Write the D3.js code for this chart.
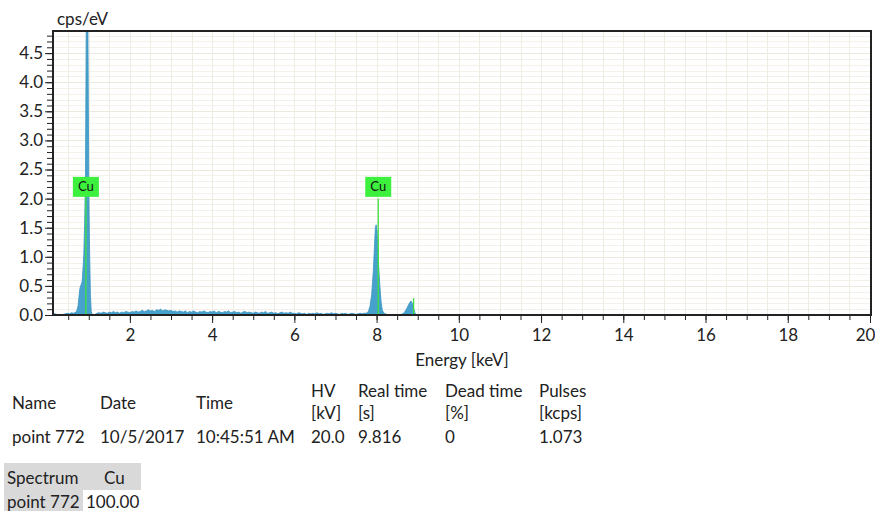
<!DOCTYPE html>
<meta charset="utf-8" />
<head>
  <script src="https://d3js.org/d3.v7.min.js"></script>
  <title>EDS spectrum</title>
  <style>
    body { margin: 0; background: #fff; }
    svg text { font-family: Lato, "Open Sans", sans-serif; fill: #222; }
    .grid line { shape-rendering: crispEdges; }
    .axis path, .axis line { stroke: #222; }
  </style>
</head>
<body>
  <svg id="chart" width="875" height="511"></svg>
</body>

<script>
  // spectrum: [keV, cps/eV]
  const lowEnd = [
    [0.13, 0.02], [0.18, 0.02], [0.23, 0.01], [0.28, 0.0], [0.33, 0.0],
    [0.38, 0.01], [0.43, 0.02], [0.48, 0.03], [0.53, 0.02], [0.58, 0.04],
    [0.63, 0.03], [0.68, 0.05],
  ];
  const cuLPeak = [
    [0.70, 0.06], [0.72, 0.10], [0.74, 0.16], [0.76, 0.30], [0.78, 0.44],
    [0.80, 0.50], [0.82, 0.53], [0.84, 0.58], [0.86, 0.80], [0.88, 1.05],
    [0.90, 1.6], [0.92, 2.4], [0.94, 5.2], [0.96, 5.4], [0.98, 4.9],
    [1.00, 2.2], [1.02, 1.1], [1.04, 0.35], [1.06, 0.06], [1.08, 0.02],
    [1.10, 0.0],
  ];
  // background counts from 1.15 keV in 0.05 keV channels
  const bgStart = 1.15;
  const bgStep = 0.05;
  const bgCounts = [
    0.01, 0.03, 0.04, 0.03, 0.05, 0.04, 0.03, 0.05, 0.04, 0.06, 0.04, 0.05, 0.03, 0.05, 0.04, 0.06, 0.05,
    0.04, 0.06, 0.05, 0.07, 0.05, 0.06, 0.08, 0.06, 0.07, 0.09, 0.07, 0.08, 0.06, 0.09, 0.08, 0.10, 0.07, 0.09, 0.08, 0.07,
    0.08, 0.06, 0.07, 0.05, 0.07, 0.06, 0.05, 0.07, 0.04, 0.06, 0.05, 0.07, 0.05, 0.04, 0.06, 0.05, 0.07, 0.05, 0.04, 0.06,
    0.05, 0.07, 0.04, 0.06, 0.05, 0.04, 0.06, 0.05, 0.07, 0.04, 0.05, 0.06, 0.04, 0.05, 0.03, 0.05, 0.06, 0.04, 0.05, 0.04,
    0.03, 0.05, 0.04, 0.03, 0.05, 0.04, 0.06, 0.03, 0.04, 0.05, 0.03, 0.04, 0.02, 0.04, 0.05, 0.03, 0.04, 0.03, 0.05, 0.03,
    0.03, 0.02, 0.04, 0.03, 0.02, 0.03, 0.01, 0.03, 0.02, 0.03, 0.02, 0.04, 0.02, 0.03, 0.01, 0.02, 0.03, 0.02, 0.04, 0.02,
    0.03, 0.02, 0.01, 0.03, 0.02, 0.03, 0.01, 0.02, 0.03, 0.02, 0.01, 0.02, 0.03, 0.02, 0.03, 0.03,
  ];
  const cuKPeaks = [
    [7.80, 0.06], [7.84, 0.15], [7.88, 0.35], [7.92, 0.75], [7.95, 1.20],
    [7.97, 1.50], [7.99, 1.55], [8.01, 1.45], [8.03, 1.20], [8.05, 0.85],
    [8.08, 0.50], [8.11, 0.22], [8.14, 0.08], [8.18, 0.03], [8.25, 0.01],
    [8.35, 0.0], [8.50, 0.0], [8.60, 0.01], [8.66, 0.03], [8.70, 0.07],
    [8.74, 0.12], [8.78, 0.18], [8.81, 0.22], [8.84, 0.24], [8.87, 0.20],
    [8.90, 0.12], [8.93, 0.04], [8.96, 0.01], [9.05, 0.0], [20.0, 0.0],
  ];

  // element line markers
  const markerLines = [
    { keV: 0.93, h: 2.03 },
    { keV: 8.04, h: 2.0 },
    { keV: 8.9, h: 0.29 },
  ];
  const markerLabels = [
    { keV: 0.93, label: "Cu" },
    { keV: 8.04, label: "Cu" },
  ];

  const xTickLabels = [2, 4, 6, 8, 10, 12, 14, 16, 18, 20];
  const yTickLabels = [0, 0.5, 1, 1.5, 2, 2.5, 3, 3.5, 4, 4.5];

  const infoHead = ["Name", "Date", "Time", "HV", "Real time", "Dead time", "Pulses"];
  const infoUnits = ["", "", "", "[kV]", "[s]", "[%]", "[kcps]"];
  const infoRow = ["point 772", "10/5/2017", "10:45:51 AM", "20.0", "9.816", "0", "1.073"];
  const quantHead = ["Spectrum", "Cu"];
  const quantRow = ["point 772", "100.00"];

  const spectrum = [
    ...lowEnd,
    ...cuLPeak,
    ...bgCounts.map((v, i) => [bgStart + i * bgStep, v]),
    ...cuKPeaks,
  ];

  const svg = d3.select("#chart");
  const margin = { top: 31, right: 4, bottom: 196, left: 53 };
  const W = +svg.attr("width");
  const H = +svg.attr("height");
  const plotR = W - margin.right;
  const plotB = H - margin.bottom;

  const x = d3.scaleLinear().domain([0.13, 20]).range([margin.left, plotR - 1]);
  const y = d3.scaleLinear().domain([0, 4.88]).range([plotB, margin.top]);

  // grid
  const grid = svg.append("g").attr("class", "grid");
  grid
    .selectAll(".hg")
    .data(d3.range(1, 49).map((i) => i / 10))
    .enter()
    .append("line")
    .attr("x1", margin.left)
    .attr("x2", plotR)
    .attr("y1", (d) => Math.round(y(d)) + 0.5)
    .attr("y2", (d) => Math.round(y(d)) + 0.5)
    .attr("stroke", (d, i) => ((i + 1) % 5 === 0 ? "#ebe8dc" : "#f3f1ea"));
  grid
    .selectAll(".vg")
    .data(d3.range(1, 40).map((i) => i / 2))
    .enter()
    .append("line")
    .attr("x1", (d) => Math.round(x(d)) + 0.5)
    .attr("x2", (d) => Math.round(x(d)) + 0.5)
    .attr("y1", margin.top)
    .attr("y2", plotB)
    .attr("stroke", "#efece3");

  svg
    .append("defs")
    .append("clipPath")
    .attr("id", "clip")
    .append("rect")
    .attr("x", margin.left)
    .attr("y", margin.top)
    .attr("width", plotR - margin.left)
    .attr("height", plotB - margin.top);

  const area = d3
    .area()
    .x((d) => x(d[0]))
    .y0(y(0))
    .y1((d) => y(d[1]));

  const g = svg.append("g").attr("clip-path", "url(#clip)");
  g.append("path")
    .datum(spectrum)
    .attr("fill", "#46a2cc")
    .attr("stroke", "#3a94c2")
    .attr("stroke-width", 0.8)
    .attr("d", area);

  g.selectAll(".mline")
    .data(markerLines)
    .enter()
    .append("line")
    .attr("x1", (d) => x(d.keV))
    .attr("x2", (d) => x(d.keV))
    .attr("y1", y(0))
    .attr("y2", (d) => y(d.h))
    .attr("stroke", "#3ee03e")
    .attr("stroke-width", 1.3);

  const lab = svg
    .selectAll(".mlabel")
    .data(markerLabels)
    .enter()
    .append("g")
    .attr("transform", (d) => `translate(${x(d.keV)},${y(2.03)})`);
  lab.append("rect")
    .attr("x", -13)
    .attr("y", -20)
    .attr("width", 26)
    .attr("height", 20)
    .attr("fill", "#3ef03e");
  lab.append("text")
    .attr("y", -5.5)
    .attr("text-anchor", "middle")
    .style("font-size", "13px")
    .style("fill", "#111")
    .text((d) => d.label);

  // axes
  const xAxis = svg
    .append("g")
    .attr("class", "axis")
    .attr("transform", `translate(0,${plotB})`);
  xAxis.call(
    d3.axisBottom(x).tickValues(d3.range(1, 40).map((i) => i / 2)).tickSize(5).tickFormat("")
  );
  xAxis.call((a) => a.select(".domain").remove());
  const xMaj = svg
    .append("g")
    .attr("class", "axis")
    .attr("transform", `translate(0,${plotB})`)
    .call(d3.axisBottom(x).tickValues(xTickLabels).tickSize(8).tickPadding(6).tickFormat(d3.format("d")));
  xMaj.select(".domain").remove();
  xMaj.selectAll("text").style("font-size", "17px");
  // last label sits against the page edge
  xMaj.selectAll("text").filter((d) => d === 20).attr("dx", -5);

  const yMin = svg
    .append("g")
    .attr("class", "axis")
    .attr("transform", `translate(${margin.left},0)`)
    .call(d3.axisLeft(y).tickValues(d3.range(1, 49).map((i) => i / 10)).tickSize(6).tickFormat(""));
  yMin.select(".domain").remove();
  const yMaj = svg
    .append("g")
    .attr("class", "axis")
    .attr("transform", `translate(${margin.left},0)`)
    .call(d3.axisLeft(y).tickValues(yTickLabels).tickSize(8).tickPadding(2).tickFormat(d3.format(".1f")));
  yMaj.select(".domain").remove();
  yMaj.selectAll("text").style("font-size", "17px");

  // frame
  svg.append("path")
    .attr("d", `M${margin.left},${margin.top}V${plotB}H${plotR}V${margin.top}Z`)
    .attr("fill", "none")
    .attr("stroke", "#222")
    .attr("stroke-width", 2);

  svg.append("text")
    .attr("x", 57)
    .attr("y", 25)
    .style("font-size", "17px")
    .text("cps/eV");
  svg.append("text")
    .attr("x", (margin.left + plotR) / 2)
    .attr("y", 366)
    .attr("text-anchor", "middle")
    .style("font-size", "17px")
    .text("Energy [keV]");

  // info table
  const colX = [12, 100, 196, 311, 358, 445, 539];
  const info = svg.append("g").style("font-size", "17px");
  infoHead.forEach((t, i) => {
    info.append("text")
      .attr("x", colX[i])
      .attr("y", i < 3 ? 409 : 397)
      .text(t);
    if (infoUnits[i])
      info.append("text").attr("x", colX[i]).attr("y", 419).text(infoUnits[i]);
    info.append("text").attr("x", colX[i]).attr("y", 443).text(infoRow[i]);
  });

  // quantification table
  const q = svg.append("g").style("font-size", "17px");
  q.append("rect").attr("x", 4).attr("y", 463).attr("width", 137).attr("height", 27).attr("fill", "#d9d9d9");
  q.append("rect").attr("x", 4).attr("y", 490).attr("width", 79).attr("height", 21).attr("fill", "#d9d9d9");
  q.append("text").attr("x", 7).attr("y", 484).text(quantHead[0]);
  q.append("text").attr("x", 104).attr("y", 484).text(quantHead[1]);
  q.append("text").attr("x", 7).attr("y", 508).text(quantRow[0]);
  q.append("text").attr("x", 86).attr("y", 508).text(quantRow[1]);
</script>
